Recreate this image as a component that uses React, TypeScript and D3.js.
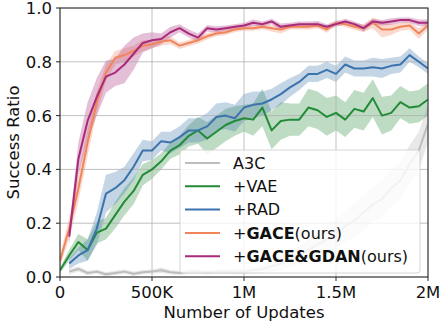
import React from 'react';
import * as d3 from 'd3';

// number of updates, in thousands
const updates = [0, 50, 100, 150, 200, 250, 300, 350, 400, 450, 500, 550, 600, 650, 700, 750, 800, 850, 900, 950,
  1000, 1050, 1100, 1150, 1200, 1250, 1300, 1350, 1400, 1450, 1500, 1550, 1600, 1650, 1700, 1750, 1800, 1850, 1900, 1950, 2000];

const a3c = [null, 0.02, 0.03, 0.015, 0.02, 0.01, 0.015, 0.02, 0.012, 0.018, 0.02, 0.025, 0.018, 0.015, 0.02, 0.02, 0.018, 0.02, 0.02, 0.02,
  0.02, 0.025, 0.03, 0.04, 0.05, 0.07, 0.08, 0.1, 0.12, 0.14, 0.16, 0.19, 0.21, 0.24, 0.27, 0.29, 0.33, 0.36, 0.42, 0.47, 0.57];
const a3cStd = [0, 0.01, 0.01, 0.008, 0.008, 0.008, 0.008, 0.008, 0.008, 0.008, 0.008, 0.01, 0.008, 0.008, 0.008, 0.008, 0.008, 0.008, 0.008, 0.01,
  0.01, 0.012, 0.015, 0.02, 0.025, 0.03, 0.035, 0.04, 0.045, 0.05, 0.055, 0.06, 0.06, 0.065, 0.065, 0.07, 0.07, 0.07, 0.07, 0.07, 0.07];

const vae = [0.025, 0.08, 0.13, 0.1, 0.165, 0.18, 0.23, 0.28, 0.32, 0.38, 0.4, 0.43, 0.47, 0.49, 0.525, 0.545, 0.515, 0.54, 0.565, 0.58,
  0.59, 0.585, 0.63, 0.545, 0.58, 0.585, 0.585, 0.63, 0.62, 0.595, 0.61, 0.585, 0.625, 0.615, 0.665, 0.6, 0.61, 0.65, 0.63, 0.635, 0.66];
const vaeStd = [0.01, 0.02, 0.03, 0.04, 0.04, 0.04, 0.05, 0.05, 0.05, 0.04, 0.035, 0.03, 0.03, 0.035, 0.04, 0.05, 0.06, 0.06, 0.06, 0.055,
  0.05, 0.06, 0.07, 0.07, 0.07, 0.06, 0.06, 0.07, 0.07, 0.07, 0.065, 0.065, 0.07, 0.07, 0.07, 0.07, 0.065, 0.06, 0.06, 0.06, 0.06];

const rad = [null, 0.05, 0.08, 0.1, 0.18, 0.31, 0.33, 0.36, 0.41, 0.47, 0.47, 0.505, 0.5, 0.52, 0.545, 0.545, 0.56, 0.595, 0.6, 0.59,
  0.63, 0.64, 0.645, 0.66, 0.68, 0.705, 0.725, 0.755, 0.755, 0.77, 0.755, 0.79, 0.775, 0.775, 0.78, 0.775, 0.785, 0.79, 0.825, 0.8, 0.775];
const radStd = [0, 0.02, 0.03, 0.04, 0.06, 0.07, 0.06, 0.05, 0.05, 0.04, 0.035, 0.035, 0.04, 0.04, 0.045, 0.045, 0.05, 0.05, 0.05, 0.05,
  0.05, 0.05, 0.045, 0.04, 0.04, 0.035, 0.03, 0.03, 0.03, 0.03, 0.03, 0.03, 0.03, 0.03, 0.035, 0.035, 0.03, 0.03, 0.025, 0.02, 0.02];

const gace = [0.06, 0.18, 0.33, 0.5, 0.65, 0.76, 0.815, 0.825, 0.84, 0.86, 0.865, 0.875, 0.88, 0.86, 0.87, 0.88, 0.895, 0.905, 0.91, 0.92,
  0.925, 0.925, 0.93, 0.925, 0.92, 0.93, 0.93, 0.93, 0.935, 0.92, 0.945, 0.94, 0.93, 0.925, 0.945, 0.92, 0.92, 0.93, 0.935, 0.905, 0.935];
const gaceStd = [0.02, 0.04, 0.05, 0.05, 0.04, 0.03, 0.025, 0.025, 0.02, 0.02, 0.015, 0.015, 0.015, 0.012, 0.012, 0.012, 0.012, 0.01, 0.01, 0.01,
  0.01, 0.01, 0.01, 0.012, 0.015, 0.01, 0.01, 0.01, 0.01, 0.012, 0.01, 0.01, 0.012, 0.015, 0.02, 0.03, 0.02, 0.015, 0.015, 0.02, 0.015];

const gdan = [null, 0.15, 0.44, 0.58, 0.67, 0.745, 0.76, 0.79, 0.83, 0.87, 0.88, 0.885, 0.91, 0.925, 0.905, 0.89, 0.925, 0.92, 0.925, 0.93,
  0.935, 0.945, 0.94, 0.95, 0.93, 0.935, 0.94, 0.94, 0.94, 0.93, 0.94, 0.95, 0.94, 0.925, 0.95, 0.945, 0.95, 0.955, 0.955, 0.945, 0.945];
const gdanStd = [0, 0.03, 0.06, 0.07, 0.07, 0.06, 0.05, 0.07, 0.06, 0.035, 0.03, 0.02, 0.02, 0.015, 0.015, 0.015, 0.012, 0.012, 0.01, 0.01,
  0.01, 0.012, 0.01, 0.01, 0.012, 0.01, 0.01, 0.01, 0.012, 0.01, 0.01, 0.01, 0.01, 0.012, 0.01, 0.01, 0.012, 0.01, 0.01, 0.012, 0.012];

const xTicks = [0, 500, 1000, 1500, 2000];
const xTickLabels = ['0', '500K', '1M', '1.5M', '2M'];
const yTicks = [0, 0.2, 0.4, 0.6, 0.8, 1.0];

const series = [
  { key: 'a3c', mean: a3c, std: a3cStd, color: '#bdbdbd', bold: '', rest: 'A3C' },
  { key: 'vae', mean: vae, std: vaeStd, color: '#238b37', bold: '', rest: 'VAE', plus: true },
  { key: 'rad', mean: rad, std: radStd, color: '#3b73ad', bold: '', rest: 'RAD', plus: true },
  { key: 'gace', mean: gace, std: gaceStd, color: '#f0855c', bold: 'GACE', rest: '(ours)', plus: true },
  { key: 'gdan', mean: gdan, std: gdanStd, color: '#a82a7a', bold: 'GACE&GDAN', rest: '(ours)', plus: true },
];

const FONT = 'DejaVu Sans, sans-serif';

export default function App() {
  const width = 441;
  const height = 322;
  const left = 60, right = 428, top = 8, bottom = 277;

  const x = d3.scaleLinear().domain([0, 2000]).range([left, right]);
  const y = d3.scaleLinear().domain([0, 1]).range([bottom, top]);

  const rows = (s) => updates
    .map((u, i) => ({ u, m: s.mean[i], sd: s.std[i] }))
    .filter(d => d.m != null);

  const line = d3.line().x(d => x(d.u)).y(d => y(d.m));
  const area = d3.area().x(d => x(d.u)).y0(d => y(d.m - d.sd)).y1(d => y(d.m + d.sd));

  const legendX = 180, legendY = 150, legendW = 240, legendH = 123;

  return (
    <svg width={width} height={height} style={{ position: 'absolute', left: 0, top: 0, fontFamily: FONT }}>
      <rect x={0} y={0} width={width} height={height} fill="#fff" />
      <defs>
        <clipPath id="plot-clip">
          <rect x={left} y={top} width={right - left} height={bottom - top} />
        </clipPath>
      </defs>

      {/* bands */}
      <g clipPath="url(#plot-clip)">
        {series.map(s => (
          <path key={s.key + '-band'} d={area(rows(s))} fill={s.color} fillOpacity={s.key === 'a3c' ? 0.35 : 0.3} stroke="none" />
        ))}
      </g>

      {/* grid */}
      <g stroke="#b0b0b0" strokeWidth={0.8}>
        {xTicks.map(t => <line key={'gx' + t} x1={x(t)} x2={x(t)} y1={top} y2={bottom} />)}
        {yTicks.map(t => <line key={'gy' + t} x1={left} x2={right} y1={y(t)} y2={y(t)} />)}
      </g>

      {/* lines */}
      <g clipPath="url(#plot-clip)" fill="none">
        {series.map(s => (
          <path key={s.key + '-line'} d={line(rows(s))} stroke={s.color} strokeWidth={2} strokeLinejoin="round" />
        ))}
      </g>

      {/* frame */}
      <rect x={left} y={top} width={right - left} height={bottom - top} fill="none" stroke="#262626" strokeWidth={1} />

      {/* ticks */}
      <g stroke="#262626" strokeWidth={1}>
        {xTicks.map(t => <line key={'tx' + t} x1={x(t)} x2={x(t)} y1={bottom} y2={bottom + 4} />)}
        {yTicks.map(t => <line key={'ty' + t} x1={left - 4} x2={left} y1={y(t)} y2={y(t)} />)}
      </g>
      <g fontSize={16.5} fill="#111">
        {xTicks.map((t, i) => (
          <text key={'lx' + t} x={x(t)} y={298} textAnchor="middle">{xTickLabels[i]}</text>
        ))}
        {yTicks.map(t => (
          <text key={'ly' + t} x={left - 8} y={y(t)} dy="0.36em" textAnchor="end">{t.toFixed(1)}</text>
        ))}
      </g>

      <text x={(left + right) / 2} y={318} textAnchor="middle" fontSize={16.5} fill="#111">Number of Updates</text>
      <text transform={`translate(19,${(top + bottom) / 2}) rotate(-90)`} textAnchor="middle" fontSize={16.5} fill="#111">Success Ratio</text>

      {/* legend */}
      <g>
        <rect x={legendX} y={legendY} width={legendW} height={legendH} rx={3} fill="#fff" fillOpacity={0.8} stroke="#cccccc" strokeOpacity={0.8} />
        {series.map((s, i) => {
          const ry = legendY + 13 + i * 23.3;
          return (
            <g key={s.key + '-leg'}>
              <line x1={legendX + 5} x2={legendX + 40} y1={ry} y2={ry} stroke={s.color} strokeWidth={2} />
              <text x={legendX + 53} y={ry} dy="0.36em" fontSize={16} fill="#111">
                {s.plus ? '+' : ''}
                {s.bold ? <tspan fontWeight="bold">{s.bold}</tspan> : null}
                {s.rest}
              </text>
            </g>
          );
        })}
      </g>
    </svg>
  );
}
